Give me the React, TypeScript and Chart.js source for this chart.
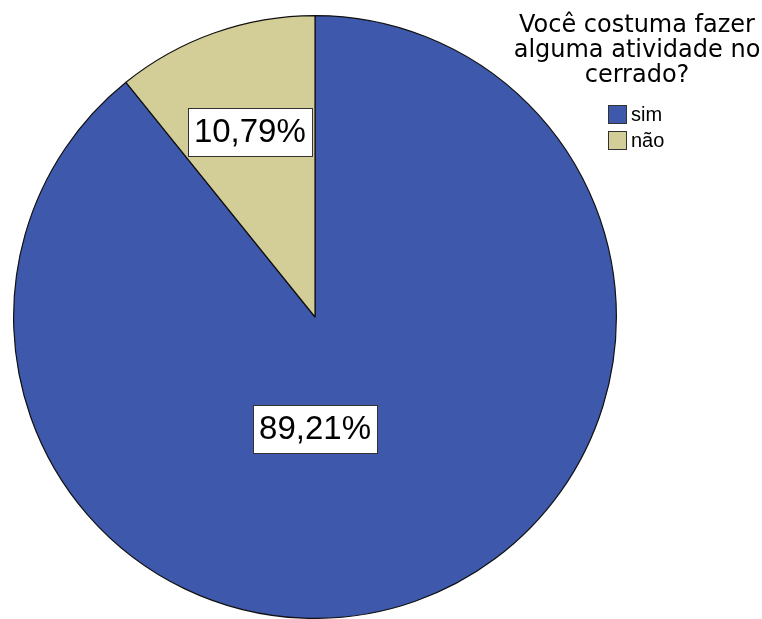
import React, { useEffect, useRef } from "react";
import { Chart, registerables } from "chart.js";

Chart.register(...registerables);

const categories = ["sim", "não"];
const percentages = [89.21, 10.79];
const sliceColors = ["#3e58ac", "#d3ce97"];
const titleLines = ["Você costuma fazer", "alguma atividade no", "cerrado?"];

// label placement style (fraction of radius, angle shift in degrees)
const labelRadiusFrac = [0.37, 0.65];
const labelAngleShiftDeg = [19.4, 0];

const fmt = (v: number) => v.toFixed(2).replace(".", ",") + "%";

const labelPlugin = {
  id: "sliceLabels",
  afterDatasetsDraw(chart: any) {
    const ctx = chart.ctx;
    const meta = chart.getDatasetMeta(0);
    ctx.save();
    ctx.font = "33px 'Liberation Sans', Arial, sans-serif";
    ctx.textAlign = "center";
    ctx.textBaseline = "middle";
    meta.data.forEach((arc: any, i: number) => {
      const p = arc.getProps(["x", "y", "startAngle", "endAngle", "outerRadius"], true);
      const mid = (p.startAngle + p.endAngle) / 2 + (labelAngleShiftDeg[i] * Math.PI) / 180;
      const r = p.outerRadius * labelRadiusFrac[i];
      const cx = p.x + Math.cos(mid) * r;
      const cy = p.y + Math.sin(mid) * r;
      const text = fmt(percentages[i]);
      const w = ctx.measureText(text).width + 12;
      const h = 48;
      ctx.fillStyle = "#ffffff";
      ctx.fillRect(Math.round(cx - w / 2) + 0.5, Math.round(cy - h / 2) + 0.5, Math.round(w), h);
      ctx.strokeStyle = "#333333";
      ctx.lineWidth = 1;
      ctx.strokeRect(Math.round(cx - w / 2) + 0.5, Math.round(cy - h / 2) + 0.5, Math.round(w), h);
      ctx.fillStyle = "#000000";
      ctx.fillText(text, cx, cy + 1);
    });
    ctx.restore();
  },
};

const legendPlugin = {
  id: "customLegend",
  afterDraw(chart: any) {
    const ctx = chart.ctx;
    ctx.save();
    ctx.fillStyle = "#000000";
    ctx.font = "24px 'DejaVu Sans', sans-serif";
    ctx.textAlign = "center";
    ctx.textBaseline = "alphabetic";
    const cx = 637;
    titleLines.forEach((line, i) => {
      ctx.fillText(line, cx, 32 + i * 25);
    });
    ctx.font = "20px 'Liberation Sans', Arial, sans-serif";
    ctx.textAlign = "left";
    ctx.textBaseline = "middle";
    categories.forEach((c, i) => {
      const y = 105 + i * 26;
      ctx.fillStyle = sliceColors[i];
      ctx.fillRect(608.5, y + 0.5, 18, 18);
      ctx.strokeStyle = "#333333";
      ctx.lineWidth = 1;
      ctx.strokeRect(608.5, y + 0.5, 18, 18);
      ctx.fillStyle = "#000000";
      ctx.fillText(c, 631, y + 10);
    });
    ctx.restore();
  },
};

export default function App() {
  const ref = useRef<HTMLCanvasElement | null>(null);
  useEffect(() => {
    if (!ref.current) return;
    const chart = new Chart(ref.current, {
      type: "pie",
      data: {
        labels: categories,
        datasets: [
          {
            data: percentages,
            backgroundColor: sliceColors,
            borderColor: "#111111",
            borderWidth: 1.2,
          },
        ],
      },
      options: {
        responsive: false,
        animation: false,
        devicePixelRatio: 1,
        layout: { padding: { left: 13, top: 15, right: 145, bottom: 0 } },
        plugins: {
          legend: { display: false },
          tooltip: { enabled: false },
          title: { display: false },
        },
      },
      plugins: [labelPlugin, legendPlugin],
    });
    return () => chart.destroy();
  }, []);
  return (
    <div style={{ position: "absolute", left: 0, top: 0, width: 762, height: 619, background: "#fff" }}>
      <canvas ref={ref} width={762} height={619} />
    </div>
  );
}
